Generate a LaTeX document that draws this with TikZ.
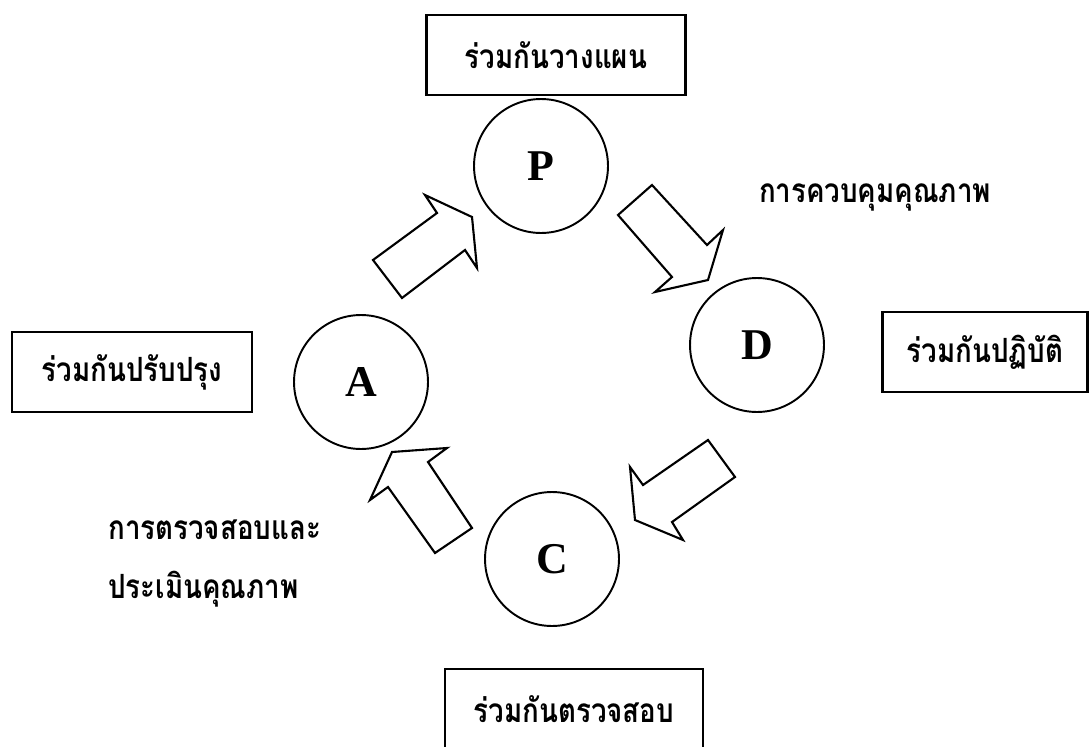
\documentclass[tikz,border=0pt]{standalone}
\usepackage{fontspec}
\setmainfont{Liberation Serif}
\newfontfamily\thaifont[Script=Thai, FakeStretch=0.83]{Loma}
\tikzset{
    stage-circle/.style = {draw, circle, line width=1.1pt, minimum size=2.68cm, inner sep=0pt, font=\bfseries\fontsize{25}{30}\selectfont},
    stage-box/.style = {draw, rectangle, line width=1.5pt, minimum height=1.6cm, inner sep=0pt, font=\thaifont\bfseries\fontsize{19}{24}\selectfont},
    stage-label/.style = {inner sep=0pt, font=\thaifont\bfseries\fontsize{19}{24}\selectfont},
    block-arrow/.style = {draw, line width=1.2pt, fill=white, line join=miter},
}

\begin{document}
\begin{tikzpicture}[x=0.02cm, y=-0.02cm]
\useasboundingbox (0,0) rectangle (1092,747);

% the four stages
\node [stage-circle] (P) at (541,166) {P};
\node [stage-circle] (D) at (757,345) {D};
\node [stage-circle] (C) at (552,559) {C};
\node [stage-circle] (A) at (361,382) {A};

% what is done together at each stage
\node [stage-box, minimum width=5.18cm] (plan-box) at (556,55) {ร่วมกันวางแผน};
\node [stage-box, minimum width=4.1cm] (do-box) at (985,352) {ร่วมกันปฏิบัติ};
\node [stage-box, minimum width=5.16cm] (check-box) at (574,709) {ร่วมกันตรวจสอบ};
\node [stage-box, minimum width=4.8cm] (act-box) at (132,372) {ร่วมกันปรับปรุง};

\node [stage-label] (control-label) at (875,197) {การควบคุมคุณภาพ};
\node [stage-label, align=left, anchor=north west] (assess-label) at (108,519) {การตรวจสอบและ\\[0.35cm]ประเมินคุณภาพ};

% block arrows round the cycle
\draw [block-arrow] (373,260) -- (437,213) -- (425,195) -- (472,217) -- (477,268) -- (465,250) -- (402,298) -- cycle;
\draw [block-arrow] (652,185) -- (707,245) -- (723,230) -- (708,280) -- (655,292) -- (672,277) -- (618,215) -- cycle;
\draw [block-arrow] (708,440) -- (735,477) -- (672,522) -- (683,540) -- (635,520) -- (630,467) -- (643,485) -- cycle;
\draw [block-arrow] (392,452) -- (447,448) -- (428,462) -- (472,528) -- (435,553) -- (388,487) -- (370,500) -- cycle;
\end{tikzpicture}
\end{document}
